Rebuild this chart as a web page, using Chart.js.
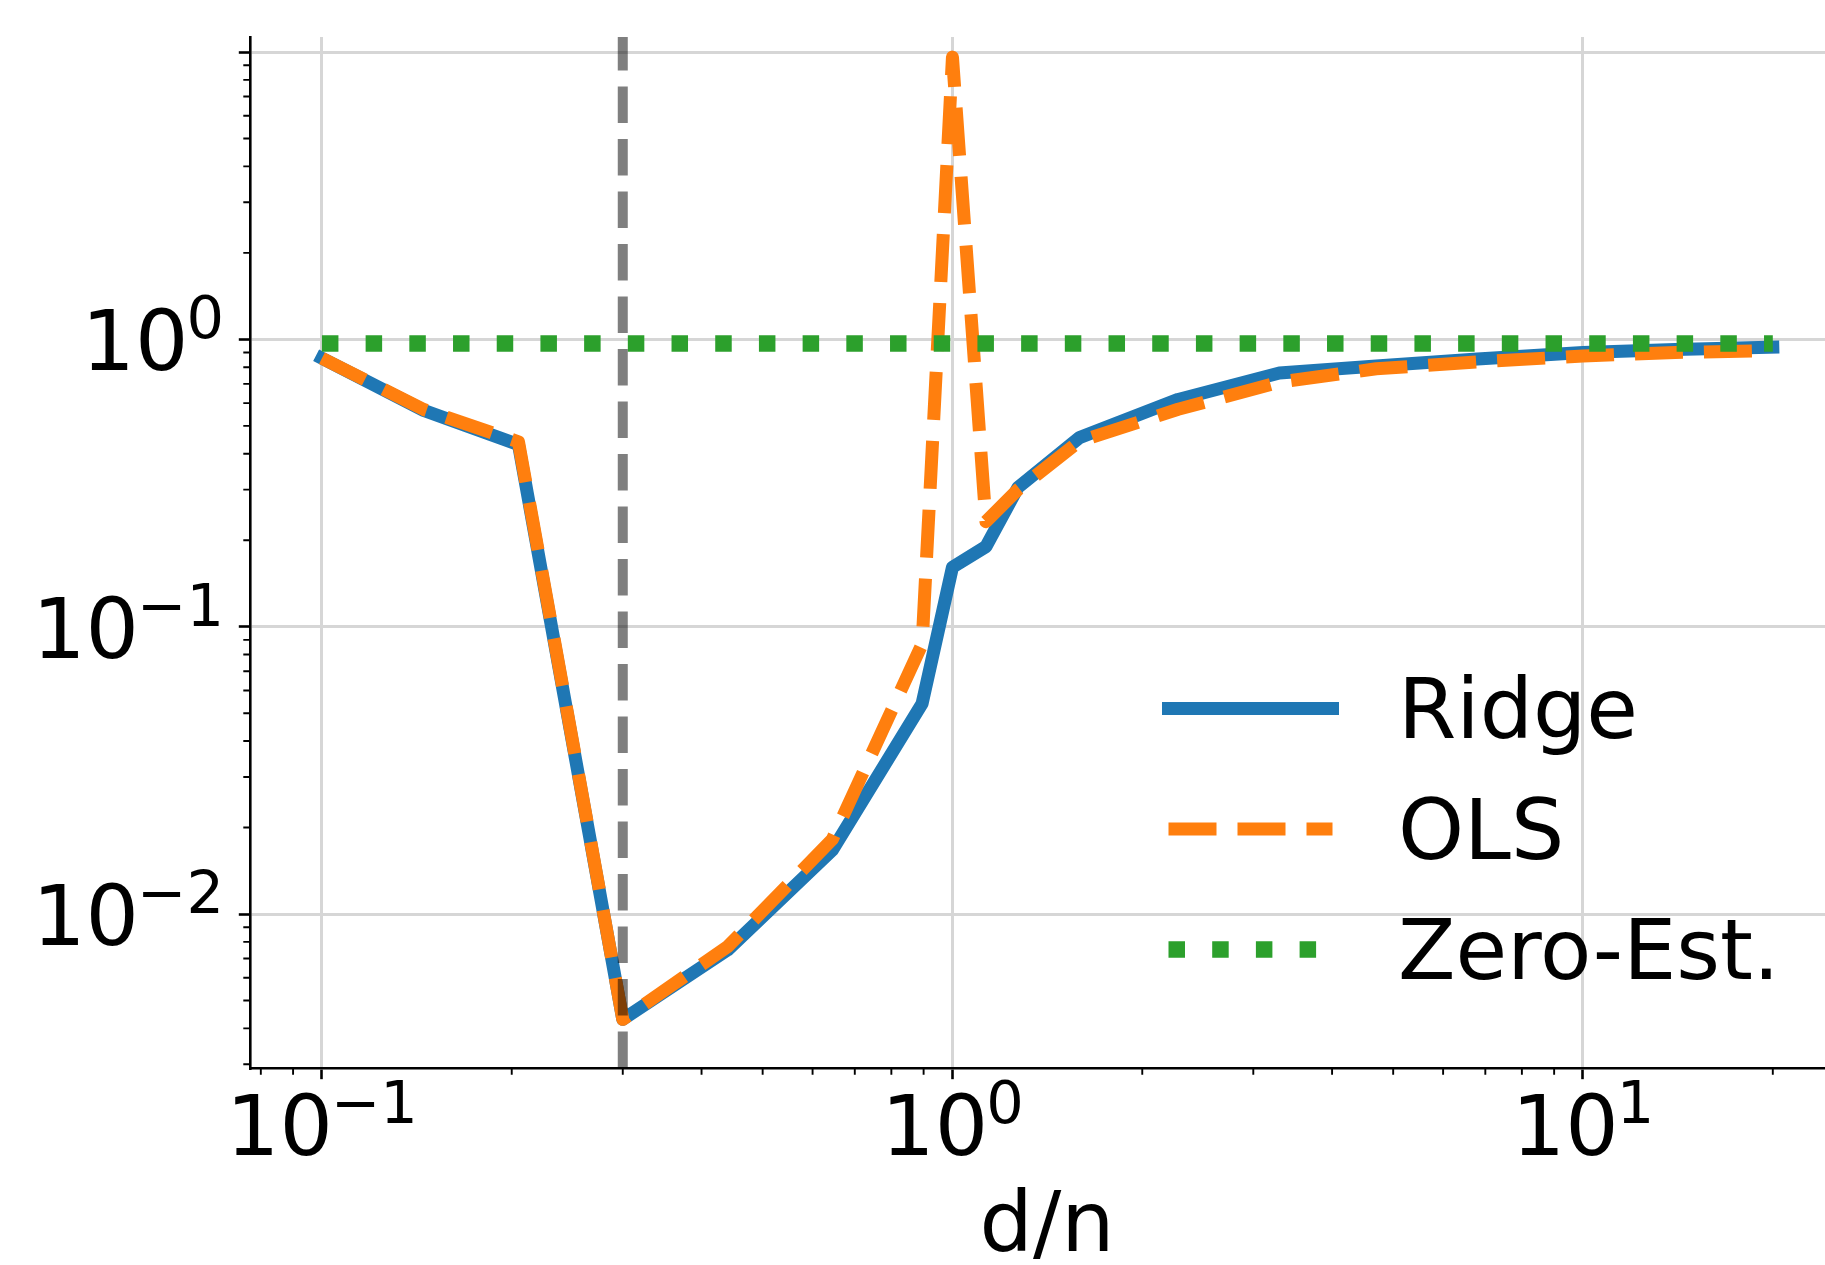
<!DOCTYPE html>
<html>
<head>
<meta charset="utf-8">
<script src="https://cdn.jsdelivr.net/npm/chart.js@4.4.1/dist/chart.umd.min.js"></script>
<style>
  html, body { margin: 0; padding: 0; background: #fff; }
</style>
</head>
<body>
<canvas id="myChart" width="1825" height="1265"></canvas>
<script>
// values
const gammas  = [0.1, 0.145, 0.205, 0.3, 0.44, 0.645, 0.895, 1.0, 1.13, 1.27, 1.59, 2.28, 3.3, 4.7, 6.8, 10, 14, 20];
const ridge   = [0.86, 0.566, 0.43, 0.0043, 0.0075, 0.0167, 0.054, 0.161, 0.19, 0.305, 0.455, 0.618, 0.764, 0.808, 0.855, 0.9, 0.922, 0.94];
const ols     = [0.86, 0.57, 0.44, 0.0043, 0.0077, 0.0182, 0.087, 9.6, 0.232, 0.3, 0.442, 0.571, 0.71, 0.79, 0.835, 0.875, 0.9, 0.915];
const zeroEst = [0.968, 0.968, 0.968, 0.968, 0.968, 0.968, 0.968, 0.968, 0.968, 0.968, 0.968, 0.968, 0.968, 0.968, 0.968, 0.968, 0.968, 0.968];
const threshold = 0.3;

const xMajor = [0.1, 1, 10];
const xMajorExp = ['\u22121', '0', '1'];
const xMinor = [0.08, 0.09, 0.2, 0.3, 0.4, 0.5, 0.6, 0.7, 0.8, 0.9, 2, 3, 4, 5, 6, 7, 8, 9, 20];
const yMajor = [0.01, 0.1, 1, 10];
const yLabelled = [0.01, 0.1, 1];
const yLabelledExp = ['\u22122', '\u22121', '0'];
const yMinor = [0.003, 0.004, 0.005, 0.006, 0.007, 0.008, 0.009,
                0.02, 0.03, 0.04, 0.05, 0.06, 0.07, 0.08, 0.09,
                0.2, 0.3, 0.4, 0.5, 0.6, 0.7, 0.8, 0.9,
                2, 3, 4, 5, 6, 7, 8, 9];

const FONT = '"DejaVu Sans"';

function pts(ys) {
  return gammas.map((g, i) => ({x: g, y: ys[i]}));
}

function pow10(ctx, exp, xRef, base, align) {
  ctx.font = '84px ' + FONT;
  let w1 = ctx.measureText('10').width - 2;
  ctx.font = '59px ' + FONT;
  let w2 = ctx.measureText(exp).width;
  let x0 = align === 'center' ? xRef - (w1 + w2) / 2 : xRef - (w1 + w2);
  ctx.textAlign = 'left';
  ctx.textBaseline = 'alphabetic';
  ctx.font = '84px ' + FONT;
  ctx.fillText('10', x0, base);
  ctx.font = '59px ' + FONT;
  ctx.fillText(exp, x0 + w1, base - 32);
}

const decor = {
  id: 'decor',
  afterDatasetsDraw(chart) {
    const ctx = chart.ctx, a = chart.chartArea;
    const px = chart.scales.x.getPixelForValue(threshold);
    ctx.save();
    ctx.strokeStyle = 'rgba(0,0,0,0.5)';
    ctx.lineWidth = 10;
    ctx.lineCap = 'butt';
    ctx.setLineDash([36.5, 16]);
    ctx.beginPath();
    ctx.moveTo(px, a.bottom);
    ctx.lineTo(px, a.top);
    ctx.stroke();
    ctx.restore();
  },
  afterDraw(chart) {
    const ctx = chart.ctx, a = chart.chartArea;
    const xs = chart.scales.x, ys = chart.scales.y;
    ctx.save();
    // minor ticks
    ctx.strokeStyle = '#000';
    ctx.lineWidth = 1.9;
    ctx.beginPath();
    xMinor.forEach(v => {
      let p = xs.getPixelForValue(v);
      ctx.moveTo(p, a.bottom);
      ctx.lineTo(p, a.bottom + 6.7);
    });
    yMinor.forEach(v => {
      let p = ys.getPixelForValue(v);
      ctx.moveTo(a.left - 6.7, p);
      ctx.lineTo(a.left, p);
    });
    ctx.stroke();

    // tick labels
    ctx.fillStyle = '#000';
    xMajor.forEach((v, i) => {
      pow10(ctx, xMajorExp[i], xs.getPixelForValue(v), a.bottom + 87, 'center');
    });
    yLabelled.forEach((v, i) => {
      pow10(ctx, yLabelledExp[i], a.left - 26, ys.getPixelForValue(v) + 31, 'right');
    });

    // axis title
    ctx.font = '84px ' + FONT;
    ctx.textAlign = 'center';
    ctx.fillText('d/n', 1047, 1251);

    // legend
    const ds = chart.data.datasets;
    ds.forEach((d, i) => {
      let yy = 708.6 + i * 120.5;
      ctx.strokeStyle = d.borderColor;
      ctx.lineWidth = d.borderWidth;
      ctx.lineCap = d.borderCapStyle;
      ctx.setLineDash(d.borderDash || []);
      ctx.beginPath();
      ctx.moveTo(1168.5, yy);
      ctx.lineTo(1332.5, yy);
      ctx.stroke();
      ctx.setLineDash([]);
      ctx.font = '84px ' + FONT;
      ctx.textAlign = 'left';
      ctx.textBaseline = 'alphabetic';
      ctx.fillText(d.label, 1398, yy + 29.5);
    });
    ctx.restore();
  }
};

const ctx = document.getElementById('myChart');
const myChart = new Chart(ctx, {
  type: 'line',
  data: {
    datasets: [
      {
        label: 'Ridge',
        data: pts(ridge),
        borderColor: '#1f77b4',
        borderWidth: 13,
        borderCapStyle: 'square',
        borderJoinStyle: 'round',
        order: 3
      },
      {
        label: 'OLS',
        data: pts(ols),
        borderColor: '#ff7f0e',
        borderWidth: 13,
        borderDash: [48, 21],
        borderCapStyle: 'butt',
        borderJoinStyle: 'round',
        order: 2
      },
      {
        label: 'Zero-Est.',
        data: pts(zeroEst),
        borderColor: '#2ca02c',
        borderWidth: 16.5,
        borderDash: [16.5, 27.2],
        borderCapStyle: 'butt',
        borderJoinStyle: 'round',
        order: 1
      }
    ]
  },
  options: {
    responsive: false,
    devicePixelRatio: 1,
    animation: false,
    layout: { padding: { top: 37, left: 0, right: 0, bottom: 0 } },
    elements: {
      point: { radius: 0, hoverRadius: 0 },
      line: { tension: 0, fill: false }
    },
    plugins: {
      legend: { display: false },
      tooltip: { enabled: false }
    },
    scales: {
      x: {
        type: 'logarithmic',
        min: 0.0769,
        max: 24.2,
        bounds: 'data',
        afterBuildTicks: s => { s.ticks = xMajor.map(v => ({value: v, major: true})); },
        afterFit: s => { s.height = 197; },
        ticks: { display: false },
        grid: { color: '#d6d6d6', lineWidth: 3, drawTicks: true, tickLength: 11.2, tickColor: '#000', tickWidth: 2.6 },
        border: { display: true, color: '#000', width: 2.6, z: 1 }
      },
      y: {
        type: 'logarithmic',
        min: 0.002912,
        max: 11.28,
        bounds: 'data',
        afterBuildTicks: s => { s.ticks = yMajor.map(v => ({value: v, major: true})); },
        afterFit: s => { s.width = 250; },
        ticks: { display: false },
        grid: { color: '#d6d6d6', lineWidth: 3, drawTicks: true, tickLength: 11.2, tickColor: '#000', tickWidth: 2.6 },
        border: { display: true, color: '#000', width: 2.6, z: 1 }
      }
    }
  },
  plugins: [decor]
});
</script>
</body>
</html>
